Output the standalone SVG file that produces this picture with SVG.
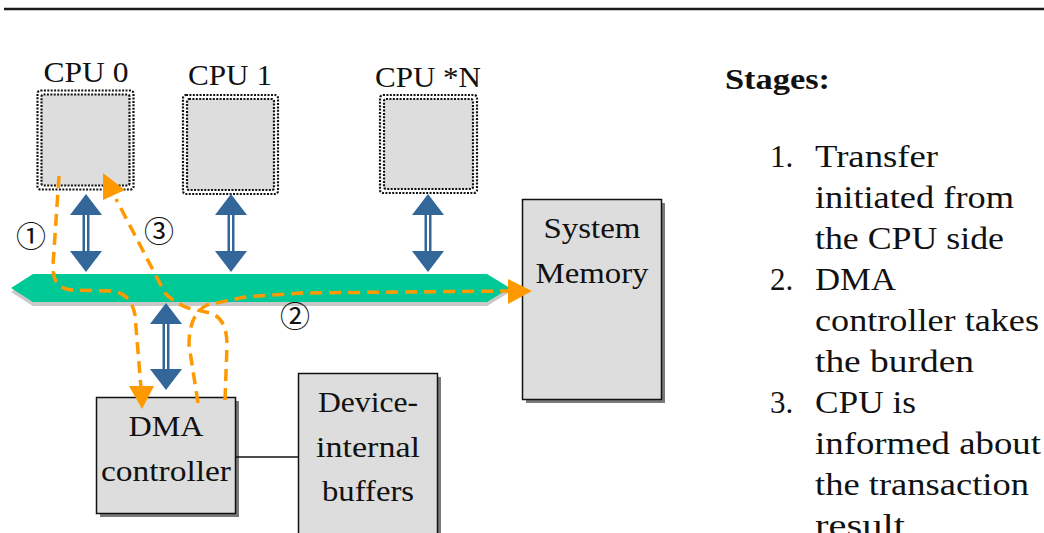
<svg xmlns="http://www.w3.org/2000/svg" width="1044" height="533" viewBox="0 0 1044 533">
  <style>
    .lbl { font-family: "Liberation Serif", "Times New Roman", serif; font-size: 30px; fill: #111; }
    .lst { font-family: "Liberation Serif", "Times New Roman", serif; font-size: 31px; fill: #111; }
    .ttl { font-family: "Liberation Serif", "Times New Roman", serif; font-size: 30px; font-weight: bold; fill: #111; }
    .num { font-family: "Noto Sans CJK JP", "DejaVu Sans", sans-serif; font-size: 30px; fill: #111; }
    .box { fill: #dddddd; stroke: #111; stroke-width: 1.5; }
    .shadow { fill: #7a7a7a; }
    .dotout { fill: #ffffff; stroke: #111; stroke-width: 2.2; stroke-dasharray: 2 1.4; }
    .dotin { fill: #dddddd; stroke: #111; stroke-width: 2.2; stroke-dasharray: 2 1.4; }
    .blue { fill: #336699; }
    .gap { fill: #ffffff; }
    .flow { fill: none; stroke: #ff9900; stroke-width: 3.5; stroke-dasharray: 12 7; }
    .head { fill: #ff9900; }
  </style>

  <!-- heading rule -->
  <g id="rule">
    <line x1="4" y1="9" x2="1044" y2="9" stroke="#1a1a1a" stroke-width="2.5"/>
  </g>

  <!-- system bus -->
  <g id="bus">
    <polygon points="11,292 33,278 487,278 510,292 487,306 33,306" fill="#c8c8c8"/>
    <polygon points="11,288 33,274 487,274 510,288 487,302 33,302" fill="#00c896"/>
  </g>

  <!-- processors -->
  <g id="cpu0">
    <rect class="dotout" x="37.5" y="90.5" width="96" height="99" rx="3"/>
    <rect class="dotin" x="41.5" y="94.5" width="88" height="91" rx="2"/>
    <text class="lbl" x="86" y="82" text-anchor="middle" textLength="85" lengthAdjust="spacingAndGlyphs">CPU 0</text>
  </g>
  <g id="cpu1">
    <rect class="dotout" x="183" y="95" width="95" height="99" rx="3"/>
    <rect class="dotin" x="187" y="99" width="87" height="91" rx="2"/>
    <text class="lbl" x="230" y="85" text-anchor="middle" textLength="84" lengthAdjust="spacingAndGlyphs">CPU 1</text>
  </g>
  <g id="cpuN">
    <rect class="dotout" x="380" y="95" width="97" height="98" rx="3"/>
    <rect class="dotin" x="384" y="99" width="89" height="90" rx="2"/>
    <text class="lbl" x="428" y="87" text-anchor="middle" textLength="106" lengthAdjust="spacingAndGlyphs">CPU *N</text>
  </g>

  <!-- memory and device -->
  <g id="sysmem">
    <rect class="shadow" x="526" y="203" width="139" height="200"/>
    <rect class="box" x="522.5" y="199.5" width="139" height="200"/>
    <text class="lbl" x="592" y="238" text-anchor="middle" textLength="97" lengthAdjust="spacingAndGlyphs">System</text>
    <text class="lbl" x="592" y="283" text-anchor="middle" textLength="113" lengthAdjust="spacingAndGlyphs">Memory</text>
  </g>
  <g id="dma">
    <rect class="shadow" x="100" y="401" width="139" height="116"/>
    <rect class="box" x="96.5" y="397.5" width="139" height="116"/>
    <text class="lbl" x="166" y="436" text-anchor="middle" textLength="75" lengthAdjust="spacingAndGlyphs">DMA</text>
    <text class="lbl" x="166" y="481" text-anchor="middle" textLength="130" lengthAdjust="spacingAndGlyphs">controller</text>
  </g>
  <g id="buffers">
    <rect class="shadow" x="302" y="377" width="139" height="170"/>
    <rect class="box" x="298.5" y="373.5" width="139" height="170"/>
    <text class="lbl" x="368" y="412" text-anchor="middle" textLength="100" lengthAdjust="spacingAndGlyphs">Device-</text>
    <text class="lbl" x="368" y="457" text-anchor="middle" textLength="104" lengthAdjust="spacingAndGlyphs">internal</text>
    <text class="lbl" x="368" y="501" text-anchor="middle" textLength="92" lengthAdjust="spacingAndGlyphs">buffers</text>
  </g>

  <!-- stage list -->
  <g id="stages">
    <text class="ttl" x="725" y="89" textLength="105" lengthAdjust="spacingAndGlyphs">Stages:</text>
    <text class="lst" x="770" y="167">1.</text>
    <text class="lst" x="815" y="167" textLength="123" lengthAdjust="spacingAndGlyphs">Transfer</text>
    <text class="lst" x="815" y="208" textLength="199" lengthAdjust="spacingAndGlyphs">initiated from</text>
    <text class="lst" x="815" y="249" textLength="189" lengthAdjust="spacingAndGlyphs">the CPU side</text>
    <text class="lst" x="770" y="290">2.</text>
    <text class="lst" x="815" y="290" textLength="81" lengthAdjust="spacingAndGlyphs">DMA</text>
    <text class="lst" x="815" y="331" textLength="224" lengthAdjust="spacingAndGlyphs">controller takes</text>
    <text class="lst" x="815" y="372" textLength="159" lengthAdjust="spacingAndGlyphs">the burden</text>
    <text class="lst" x="770" y="413">3.</text>
    <text class="lst" x="815" y="413" textLength="101" lengthAdjust="spacingAndGlyphs">CPU is</text>
    <text class="lst" x="815" y="454" textLength="226" lengthAdjust="spacingAndGlyphs">informed about</text>
    <text class="lst" x="815" y="495" textLength="214" lengthAdjust="spacingAndGlyphs">the transaction</text>
    <text class="lst" x="815" y="536" textLength="90" lengthAdjust="spacingAndGlyphs">result</text>
  </g>

  <!-- connectors -->
  <g id="connectors">
    <!-- bus links (double-headed, hollow shaft) -->
    <g id="link-cpu0">
      <rect class="blue" x="82.5" y="213" width="7" height="40"/>
      <rect class="gap" x="85" y="213" width="2" height="40"/>
      <polygon class="blue" points="86,194 70,215 102,215"/>
      <polygon class="blue" points="70,251 102,251 86,272"/>
    </g>
    <g id="link-cpu1">
      <rect class="blue" x="227.5" y="213" width="7" height="40"/>
      <rect class="gap" x="230" y="213" width="2" height="40"/>
      <polygon class="blue" points="231,194 215,215 247,215"/>
      <polygon class="blue" points="215,251 247,251 231,272"/>
    </g>
    <g id="link-cpuN">
      <rect class="blue" x="424.5" y="213" width="7" height="40"/>
      <rect class="gap" x="427" y="213" width="2" height="40"/>
      <polygon class="blue" points="428,194 412,215 444,215"/>
      <polygon class="blue" points="412,251 444,251 428,272"/>
    </g>
    <g id="link-dma">
      <rect class="blue" x="162.5" y="322" width="7" height="49"/>
      <rect class="gap" x="165" y="322" width="2" height="49"/>
      <polygon class="blue" points="166,303 150,324 182,324"/>
      <polygon class="blue" points="150,369 182,369 166,390"/>
    </g>

    <line x1="236" y1="457" x2="298" y2="457" stroke="#111" stroke-width="1.5"/>

    <!-- stage 1: CPU to DMA controller -->
    <path class="flow" d="M59,176 L53,265 Q52,289 72,290 L112,291 Q131,293 135,315 L141,388"/>
    <polygon class="head" points="129,386 154,386 142,409"/>

    <!-- stage 2: DMA controller to memory -->
    <path class="flow" d="M198,403 L189,345 Q189,314 207,305 L245,297 L300,293 L508,291"/>
    <polygon class="head" points="508,279 532,291 508,304"/>

    <!-- stage 3: DMA controller back to CPU -->
    <path class="flow" d="M225,400 L227,345 Q227,318 210,313 L188,308 Q173,302 165,293 L116,199"/>
    <polygon class="head" points="103,173 103,200 125,190"/>

    <text class="num" x="31" y="247" text-anchor="middle">①</text>
    <text class="num" x="159" y="242" text-anchor="middle">③</text>
    <text class="num" x="295" y="327" text-anchor="middle">②</text>
  </g>
</svg>
